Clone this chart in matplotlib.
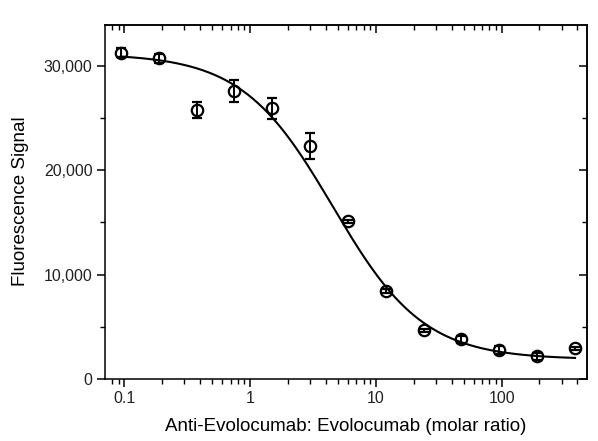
import numpy as np
import matplotlib
matplotlib.use('Agg')
import matplotlib.pyplot as plt
from matplotlib.ticker import FuncFormatter, LogLocator, MultipleLocator, NullFormatter

plt.rcParams['font.family'] = ['Liberation Sans', 'DejaVu Sans']

# molar ratio (two-fold dilution series)
ratio = [0.09375, 0.1875, 0.375, 0.75, 1.5, 3, 6, 12, 24, 48, 96, 192, 384]
signal = [31300, 30750, 25800, 27600, 25950, 22350, 15100, 8380, 4650, 3770, 2740, 2160, 2900]
signal_err = [450, 400, 740, 1030, 1030, 1230, 150, 200, 150, 350, 350, 350, 150]

# 4-parameter logistic fit
fit_top = 31200
fit_bottom = 1850
fit_ec50 = 4.55
fit_hill = 1.2

fig = plt.figure(figsize=(5.98, 4.41), dpi=100)
ax = fig.add_axes([0.1756, 0.1413, 0.8060, 0.8031])

xs = np.logspace(np.log10(ratio[0]), np.log10(ratio[-1]), 300)
ys = fit_bottom + (fit_top - fit_bottom) / (1 + (xs / fit_ec50) ** fit_hill)
ax.plot(xs, ys, color='black', lw=1.5, zorder=2)

ax.errorbar(ratio, signal, yerr=signal_err, fmt='o', ms=8.2, mfc='none', mec='black',
            mew=1.6, ecolor='black', elinewidth=1.4, capsize=3.4, capthick=1.5, zorder=3)

ax.set_xscale('log')
ax.set_xlim(0.0702, 478)
ax.set_ylim(0, 34000)

ax.xaxis.set_major_locator(LogLocator(base=10))
ax.xaxis.set_minor_locator(LogLocator(base=10, subs=np.arange(2, 10)))
ax.xaxis.set_minor_formatter(NullFormatter())
ax.xaxis.set_major_formatter(FuncFormatter(lambda v, p: '%g' % v))
ax.yaxis.set_major_locator(MultipleLocator(10000))
ax.yaxis.set_minor_locator(MultipleLocator(5000))
ax.yaxis.set_major_formatter(FuncFormatter(lambda v, p: '{:,.0f}'.format(v)))

ax.tick_params(which='major', direction='out', length=6, width=1.1, labelsize=11.5,
               colors='black', labelcolor='#222222', pad=3)
ax.tick_params(which='minor', direction='out', length=3.5, width=1.0)

for s in ax.spines.values():
    s.set_linewidth(1.1)

top = ax.secondary_xaxis('top')
top.set_xscale('log')
top.xaxis.set_major_locator(LogLocator(base=10))
top.xaxis.set_minor_locator(LogLocator(base=10, subs=np.arange(2, 10)))
top.tick_params(which='major', direction='in', length=6, width=1.1, labeltop=False)
top.tick_params(which='minor', direction='in', length=3.5, width=1.0)
top.spines['top'].set_linewidth(1.1)

right = ax.secondary_yaxis('right')
right.yaxis.set_major_locator(MultipleLocator(10000))
right.yaxis.set_minor_locator(MultipleLocator(5000))
right.tick_params(which='major', direction='in', length=6, width=1.1, labelright=False)
right.tick_params(which='minor', direction='in', length=3.5, width=1.0)
right.spines['right'].set_linewidth(1.1)

ax.set_xlabel('Anti-Evolocumab: Evolocumab (molar ratio)', fontsize=13.5)
ax.set_ylabel('Fluorescence Signal', fontsize=13.5)
ax.yaxis.set_label_coords(-0.158, 0.5)
ax.xaxis.set_label_coords(0.5, -0.112)

fig.savefig('out.png', dpi=100)
